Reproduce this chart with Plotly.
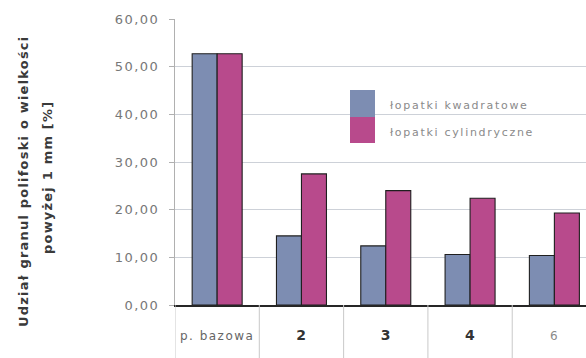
import plotly.graph_objects as go

# Share of fertiliser granules larger than 1 mm, by mixer configuration
categories = ["p. bazowa", "2", "3", "4", "6"]
square_blades = [52.7, 14.5, 12.4, 10.6, 10.4]
cylinder_blades = [52.7, 27.5, 24.0, 22.4, 19.3]
series_names = ["łopatki kwadratowe", "łopatki cylindryczne"]
y_ticks = [0, 10, 20, 30, 40, 50, 60]

BLUE = "#7d8db2"
MAGENTA = "#b84a8c"
FONT = "DejaVu Sans"

W, H = 586, 358
ML, MR, MT, MB = 175, 0, 19, 53
PW, PH = W - ML - MR, H - MT - MB


def px_x(px):
    return (px - ML) / PW


def px_y(py):
    return (H - MB - py) / PH


def spaced(text, ls, color=None, bold=False, size=None):
    style = f"letter-spacing:{ls}px"
    if color:
        style += f";color:{color}"
    if size:
        style += f";font-size:{size}px"
    inner = f"<b>{text}</b>" if bold else text
    return f'<span style="{style}">{inner}</span>'


emphasised = {"2", "3", "4"}
x_ticktext = []
for c in categories:
    if c in emphasised:
        x_ticktext.append(spaced(c, 0.5, "#333333", bold=True, size=14))
    elif c == categories[0]:
        x_ticktext.append(spaced(c, 1.5, "#666666"))
    else:
        x_ticktext.append(spaced(c, 1.0, "#8a8a8a"))

y_ticktext = [spaced(f"{v:.2f}".replace(".", ","), 1.5, "#777777") for v in y_ticks]

fig = go.Figure()
for name, vals, col in [(series_names[0], square_blades, BLUE),
                        (series_names[1], cylinder_blades, MAGENTA)]:
    fig.add_trace(go.Bar(
        x=categories, y=vals, name=name,
        marker=dict(color=col, line=dict(color="#1f1f1f", width=1.1)),
    ))

shapes = []
# cell borders of the category row below the axis
for i in range(len(categories)):
    shapes.append(dict(type="line", xref="x", yref="paper",
                       x0=i - 0.5, x1=i - 0.5, y0=0, y1=-MB / PH,
                       line=dict(color="#c9c9c9", width=1)))

# legend swatches
lx0, lx1 = px_x(350), px_x(375)
shapes.append(dict(type="rect", xref="paper", yref="paper",
                   x0=lx0, x1=lx1, y0=px_y(117), y1=px_y(90),
                   fillcolor=BLUE, line=dict(width=0)))
shapes.append(dict(type="rect", xref="paper", yref="paper",
                   x0=lx0, x1=lx1, y0=px_y(143), y1=px_y(117),
                   fillcolor=MAGENTA, line=dict(width=0)))

annotations = [
    dict(xref="paper", yref="paper", x=px_x(388), y=px_y(106),
         xanchor="left", yanchor="middle", showarrow=False,
         text=spaced(series_names[0], 1.7),
         font=dict(family=FONT, size=11, color="#8a8a8a")),
    dict(xref="paper", yref="paper", x=px_x(388), y=px_y(132),
         xanchor="left", yanchor="middle", showarrow=False,
         text=spaced(series_names[1], 1.7),
         font=dict(family=FONT, size=11, color="#8a8a8a")),
    dict(xref="paper", yref="paper", x=px_x(23), y=px_y(182),
         xanchor="center", yanchor="middle", showarrow=False, textangle=-90,
         text=spaced("<b>Udział granul polifoski o wielkości</b>", 1.2),
         font=dict(family=FONT, size=13, color="#3a3a3a")),
    dict(xref="paper", yref="paper", x=px_x(47), y=px_y(178),
         xanchor="center", yanchor="middle", showarrow=False, textangle=-90,
         text=spaced("<b>powyżej 1 mm [%]</b>", 1.2),
         font=dict(family=FONT, size=13, color="#3a3a3a")),
]

fig.update_layout(
    width=W, height=H,
    margin=dict(l=ML, r=MR, t=MT, b=MB),
    paper_bgcolor="white", plot_bgcolor="white",
    barmode="group", bargap=0.407, bargroupgap=0,
    showlegend=False,
    font=dict(family=FONT, size=12, color="#666666"),
    shapes=shapes, annotations=annotations,
    xaxis=dict(
        type="category", range=[-0.5, 4.375],
        tickmode="array", tickvals=categories, ticktext=x_ticktext,
        ticks="", showgrid=False, zeroline=False,
        showline=True, linecolor="#262626", linewidth=1.5,
        tickfont=dict(family=FONT, size=12),
        ticklabelstandoff=19,
    ),
    yaxis=dict(
        range=[0, 60], tickmode="array", tickvals=y_ticks, ticktext=y_ticktext,
        showgrid=True, gridcolor="#cdd1d8", gridwidth=1,
        zeroline=False, showline=True, linecolor="#b0b0b0", linewidth=1,
        ticks="outside", ticklen=5, tickcolor="#b0b0b0",
        tickfont=dict(family=FONT, size=13),
        ticklabelstandoff=7,
    ),
)

fig.write_html("out.html")
